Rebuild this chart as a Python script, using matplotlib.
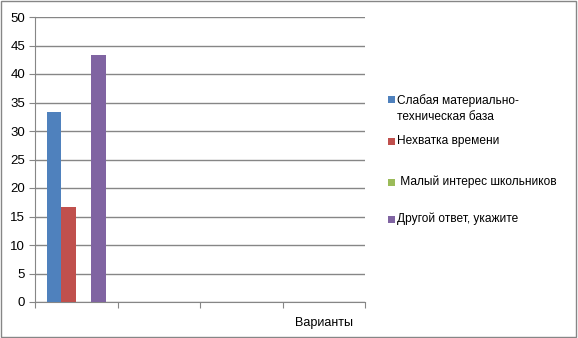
import matplotlib.pyplot as plt
import numpy as np
from matplotlib.patches import Rectangle

# data
categories = ["", "", "", "Варианты"]
series_names = ["Слабая материально-\nтехническая база",
                "Нехватка времени",
                " Малый интерес школьников",
                "Другой ответ, укажите"]
series_values = [[33.3, 0, 0, 0],
                 [16.7, 0, 0, 0],
                 [0, 0, 0, 0],
                 [43.3, 0, 0, 0]]
colors = ["#4F81BD", "#C0504D", "#9BBB59", "#8064A2"]
yticks = [0, 5, 10, 15, 20, 25, 30, 35, 40, 45, 50]

plt.rcParams['font.family'] = ['Liberation Sans', 'DejaVu Sans']
W, H = 578, 338
fig = plt.figure(figsize=(W/100, H/100), dpi=100)
ax = fig.add_axes([35/W, 36/H, 330/W, 285/H])

x = np.arange(len(categories))
w = 0.18
for i, (vals, c) in enumerate(zip(series_values, colors)):
    ax.bar(x - 1.5*w + i*w, vals, w, color=c, zorder=3)

ax.set_xlim(-0.5, len(categories) - 0.5)
ax.set_ylim(0, 50)
ax.set_yticks(yticks)
ax.set_xticks(np.arange(len(categories) + 1) - 0.5)
ax.set_xticklabels([])
ax.set_xticks(x, minor=True)
ax.set_xticklabels(categories, minor=True)
ax.tick_params(axis='x', which='minor', length=0, pad=11, labelsize=9)
ax.tick_params(axis='x', which='major', length=4, color='#868686')
ax.tick_params(axis='y', length=4, color='#868686', labelsize=9.5, pad=3)
ax.yaxis.grid(True, color='#868686', linewidth=1, zorder=0)
for s in ['top', 'right']:
    ax.spines[s].set_visible(False)
for s in ['left', 'bottom']:
    ax.spines[s].set_color('#868686')

# legend drawn by hand to keep the uneven spacing of the original
leg_y = [100, 141, 182, 219]
for name, c, yy in zip(series_names, colors, leg_y):
    fig.patches.append(Rectangle((388/W, 1 - (yy + 3.5)/H), 7/W, 7/H,
                                 transform=fig.transFigure, facecolor=c, edgecolor='none'))
    fig.text(397/W, 1 - yy/H, name, fontsize=8.6, va='top' if '\n' in name else 'center',
             ha='left', linespacing=1.5)

fig.texts[0].set_va('center')
fig.texts[0].set_position((397/W, 1 - 108.5/H))

fig.patches.append(Rectangle((0.002, 0.003), 0.995, 0.993, transform=fig.transFigure,
                             fill=False, edgecolor='#868686', linewidth=1))
fig.savefig("out.png", dpi=100)
